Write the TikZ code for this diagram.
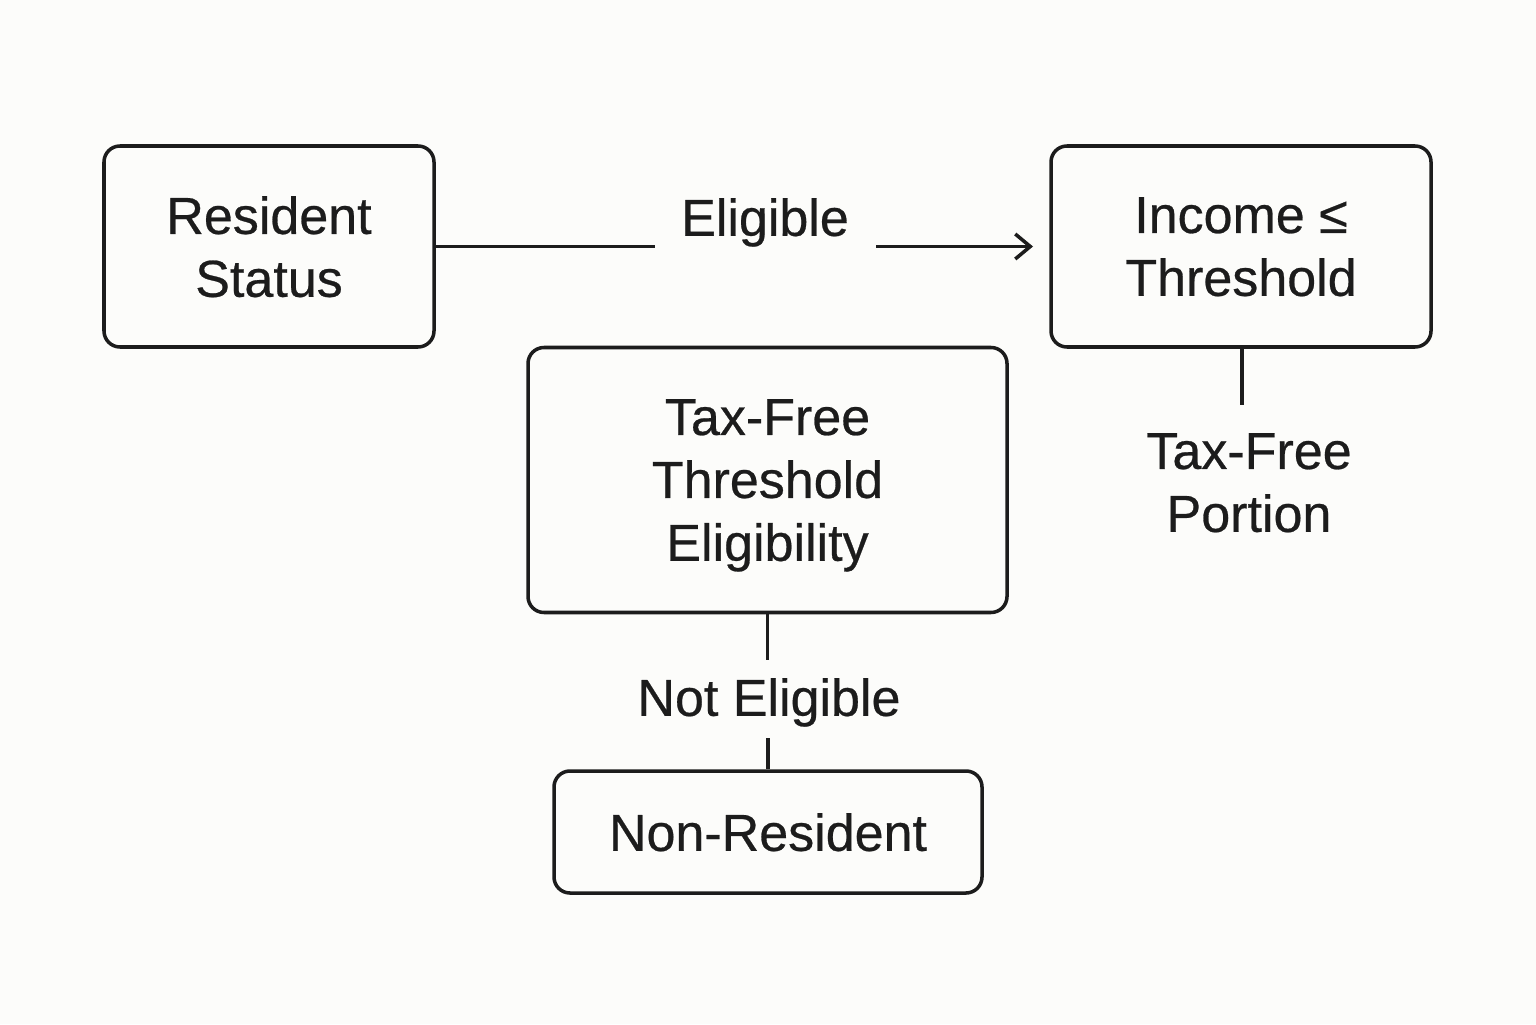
\documentclass[tikz,border=0pt]{standalone}
\usepackage{fontspec}
\setmainfont{Liberation Sans}[FakeBold=0.5]
\usetikzlibrary{arrows.meta}
\definecolor{bg}{HTML}{FCFCFA}
\definecolor{ink}{HTML}{1C1C1C}
\begin{document}
\begin{tikzpicture}[
        every node/.style={text=ink, align=center, text depth=0pt, font=\fontsize{14.8}{17.9}\selectfont},
        box/.style={draw=ink, line width=1pt, rounded corners=0.16cm, inner sep=0pt},
        line width=1pt, draw=ink
    ]
            \fill [bg] (0,0) rectangle (15.36,10.24);
            \useasboundingbox (0,0) rectangle (15.36,10.24);

            \node [box, minimum width=3.30cm, minimum height=2.01cm] (R) at (2.69,7.775) {Resident\\Status};
            \node [box, minimum width=3.80cm, minimum height=2.01cm] (I) at (12.41,7.775) {Income ≤\\Threshold};
            \node [box, minimum width=4.79cm, minimum height=2.65cm] (T) at (7.675,5.44) {Tax-Free\\Threshold\\Eligibility};
            \node [box, minimum width=4.28cm, minimum height=1.22cm] (N) at (7.68,1.92) {Non-Resident};

            \node (E) at (7.65,8.07) {Eligible};
            \node (P) at (12.49,5.415) {Tax-Free\\Portion};
            \node (NE) at (7.69,3.27) {Not Eligible};

            \coordinate (e1) at (6.55,7.775);
            \coordinate (e2) at (8.76,7.775);
            \coordinate (e3) at (10.33,7.775);
            \coordinate (p1) at (12.42,6.19);
            \coordinate (n1) at (7.675,3.64);
            \coordinate (n2) at (7.68,2.86);

            \draw (R.east) -- (e1);
            \draw [-{Straight Barb[length=1.5mm,width=2.5mm]}] (e2) -- (e3);
            \draw (I.south -| p1) -- (p1);
            \draw (T.south) -- (n1);
            \draw (n2) -- (N.north);
        \end{tikzpicture}
\end{document}
